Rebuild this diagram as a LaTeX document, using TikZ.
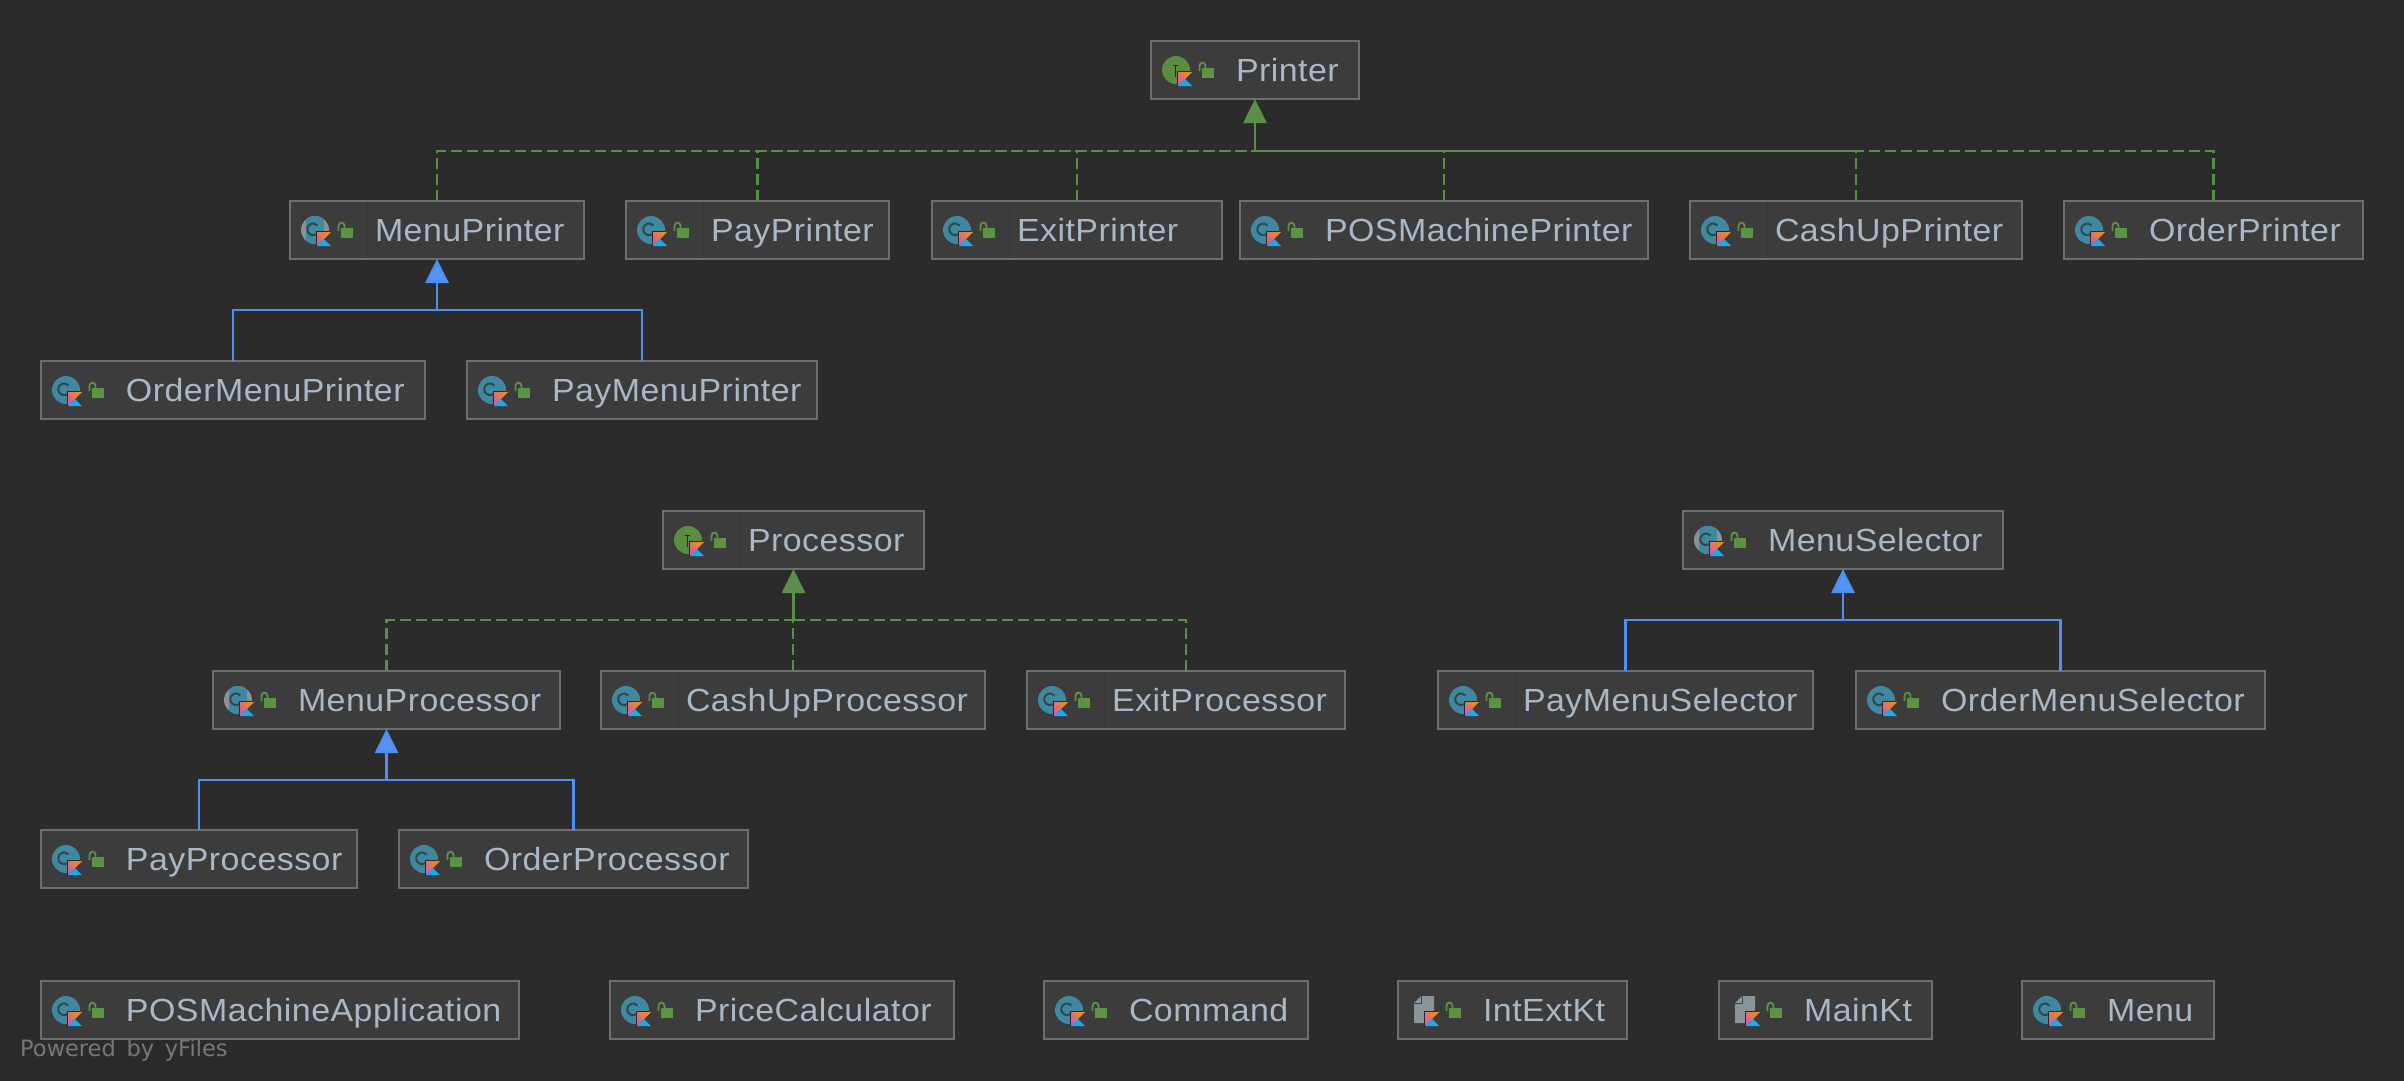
\documentclass[tikz,border=0pt]{standalone}
\usepackage{fontspec}
\setmainfont[FakeStretch=1.06,LetterSpace=1.5]{Liberation Sans}
\newfontfamily\yfilesfont[WordSpace=1.5]{DejaVu Sans}
\usetikzlibrary{arrows.meta}
\definecolor{bgdark}{HTML}{2B2B2B}
\definecolor{boxfill}{HTML}{3C3C3C}
\definecolor{boxedge}{HTML}{6E6E6E}
\definecolor{partline}{HTML}{363636}
\definecolor{labeltext}{HTML}{A9B7C6}
\definecolor{linkgreen}{HTML}{5B8E48}
\definecolor{linkblue}{HTML}{4F8FEF}
\definecolor{headblue}{HTML}{5596F5}
\definecolor{iconteal}{HTML}{40889F}
\definecolor{icongreen}{HTML}{5A8C42}
\definecolor{icongrey}{HTML}{88939A}
\definecolor{lockgreen}{HTML}{5A9443}
\definecolor{kblue}{HTML}{18AAF0}
\definecolor{korange}{HTML}{F88A12}
\definecolor{kpink}{HTML}{C95FB0}
\tikzset{
  umlbox/.style={draw=boxedge,fill=boxfill,line width=2pt,inner sep=0pt,outer sep=0pt,
    anchor=north west,minimum height=58pt,text=labeltext,text height=23pt,text depth=0pt,
    font=\fontsize{32}{36}\selectfont},
  implline/.style={draw=linkgreen,line width=2.2pt,dash pattern=on 11pt off 5pt},
  extline/.style={draw=linkblue,line width=2.2pt},
  implarrow/.style={draw=linkgreen,line width=2.8pt,-{Triangle[length=24pt,width=23pt,fill=linkgreen]}},
  extarrow/.style={draw=linkblue,line width=2.8pt,-{Triangle[length=24pt,width=23pt,fill=headblue]}},
}
% ---- icon parts, all drawn relative to the box's north west corner
\newcommand{\kmark}{%
  \fill[boxfill] (26,30) rectangle (42,46);
  \draw[bgdark,line width=1pt] (26,46)--(26,30)--(39,30);
  \shade[left color=kpink,right color=korange,shading angle=135] (27,31)--(41,31)--(34,38)--(27,45)--cycle;
  \fill[kblue] (27,45)--(34,38)--(41,45)--cycle;
}
\newcommand{\lockmark}{%
  \fill[lockgreen] (51,27) rectangle (63,37);
  \draw[lockgreen,line width=1.8pt] (48.5,30)--(48.5,25) .. controls (48.5,20.5) and (54.5,20.5) .. (54.5,25)--(54.5,27);
}
\newcommand{\cglyph}{\draw[bgdark!70!iconteal,line width=2pt] (27.5,32) arc[start angle=40,end angle=320,radius=5.8];}
\newcommand{\iconC}{\fill[iconteal] (25,29) circle[radius=14];\cglyph\kmark\lockmark}
\newcommand{\iconA}{\fill[icongrey] (25,29) circle[radius=14];
  \begin{scope}\clip (25,29) circle[radius=14];\fill[iconteal] (16,14) rectangle (34,44);\end{scope}
  \cglyph\kmark\lockmark}
\newcommand{\iconI}{\fill[icongreen] (25,29) circle[radius=14];
  \draw[bgdark,line width=1.6pt] (22,24.5)--(27,24.5) (24.5,24.5)--(24.5,36);\kmark\lockmark}
\newcommand{\iconF}{%
  \fill[icongrey] (16,22)--(23,15)--(23,22)--cycle;
  \fill[icongrey] (24,15)--(36,15)--(36,42)--(16,42)--(16,23)--(24,23)--cycle;
  \kmark\lockmark}
\newcommand{\partition}{\draw[partline,line width=1pt] (77,1)--(77,57);}
% {name}{x left}{x right}{y top}{text}{icon}
\newcommand{\umlnode}[6]{%
  \node[umlbox,minimum width={(#3-#2)*1pt}] (#1) at (#2,#4)
    {\makebox[\dimexpr #3pt-#2pt\relax][l]{\hspace{85pt}#5}};
  \begin{scope}[shift={(#1.north west)}]#6\end{scope}
}
\begin{document}
\begin{tikzpicture}[x=1pt,y=-1pt]
\useasboundingbox (0,0) rectangle (2404,1080);
\fill[bgdark] (-6,-6) rectangle (2410,1086);

\umlnode{Printer}{1151}{1359}{41}{Printer}{\iconI}
\umlnode{MenuPrinter}{290}{584}{201}{MenuPrinter}{\iconA\partition}
\umlnode{PayPrinter}{626}{889}{201}{PayPrinter}{\iconC\partition}
\umlnode{ExitPrinter}{932}{1222}{201}{ExitPrinter}{\iconC\partition}
\umlnode{POSMachinePrinter}{1240}{1648}{201}{POSMachinePrinter}{\iconC\partition}
\umlnode{CashUpPrinter}{1690}{2022}{201}{CashUpPrinter}{\iconC\partition}
\umlnode{OrderPrinter}{2064}{2363}{201}{OrderPrinter}{\iconC\partition}
\umlnode{OrderMenuPrinter}{41}{425}{361}{OrderMenuPrinter}{\iconC}
\umlnode{PayMenuPrinter}{467}{817}{361}{PayMenuPrinter}{\iconC}

\umlnode{Processor}{663}{924}{511}{Processor}{\iconI\partition}
\umlnode{MenuProcessor}{213}{560}{671}{MenuProcessor}{\iconA\partition}
\umlnode{CashUpProcessor}{601}{985}{671}{CashUpProcessor}{\iconC\partition}
\umlnode{ExitProcessor}{1027}{1345}{671}{ExitProcessor}{\iconC\partition}
\umlnode{PayProcessor}{41}{357}{830}{PayProcessor}{\iconC}
\umlnode{OrderProcessor}{399}{748}{830}{OrderProcessor}{\iconC}

\umlnode{MenuSelector}{1683}{2003}{511}{MenuSelector}{\iconA}
\umlnode{PayMenuSelector}{1438}{1813}{671}{PayMenuSelector}{\iconC\partition}
\umlnode{OrderMenuSelector}{1856}{2265}{671}{OrderMenuSelector}{\iconC\partition}

\umlnode{POSMachineApplication}{41}{519}{981}{POSMachineApplication}{\iconC}
\umlnode{PriceCalculator}{610}{954}{981}{PriceCalculator}{\iconC}
\umlnode{Command}{1044}{1308}{981}{Command}{\iconC}
\umlnode{IntExtKt}{1398}{1627}{981}{IntExtKt}{\iconF}
\umlnode{MainKt}{1719}{1932}{981}{MainKt}{\iconF}
\umlnode{Menu}{2022}{2214}{981}{Menu}{\iconC}

\coordinate (printerBus) at (Printer.south |- 0,151);
\coordinate (menuPrinterBus) at (MenuPrinter.south |- 0,310);
\coordinate (processorBus) at (Processor.south |- 0,620);
\coordinate (menuProcessorBus) at (MenuProcessor.south |- 0,780);
\coordinate (selectorBus) at (MenuSelector.south |- 0,620);

\draw[implline] (MenuPrinter.north) |- (printerBus);
\draw[implline] (PayPrinter.north) |- (printerBus);
\draw[implline] (ExitPrinter.north) |- (printerBus);
\draw[implline] (POSMachinePrinter.north) |- (printerBus);
\draw[implline] (CashUpPrinter.north) |- (printerBus);
\draw[implline] (OrderPrinter.north) |- (printerBus);
\draw[implarrow] (printerBus) -- (Printer.south);

\draw[extline] (OrderMenuPrinter.north) |- (menuPrinterBus);
\draw[extline] (PayMenuPrinter.north) |- (menuPrinterBus);
\draw[extarrow] (menuPrinterBus) -- (MenuPrinter.south);

\draw[implline] (MenuProcessor.north) |- (processorBus);
\draw[implline] (CashUpProcessor.north) |- (processorBus);
\draw[implline] (ExitProcessor.north) |- (processorBus);
\draw[implarrow] (processorBus) -- (Processor.south);

\draw[extline] (PayProcessor.north) |- (menuProcessorBus);
\draw[extline] (OrderProcessor.north) |- (menuProcessorBus);
\draw[extarrow] (menuProcessorBus) -- (MenuProcessor.south);

\draw[extline] (PayMenuSelector.north) |- (selectorBus);
\draw[extline] (OrderMenuSelector.north) |- (selectorBus);
\draw[extarrow] (selectorBus) -- (MenuSelector.south);

\node[anchor=base west,inner sep=0pt,text=white!36!bgdark,font=\yfilesfont\fontsize{22.5}{26}\selectfont] (poweredBy) at (20,1056) {Powered by yFiles};
\end{tikzpicture}
\end{document}
